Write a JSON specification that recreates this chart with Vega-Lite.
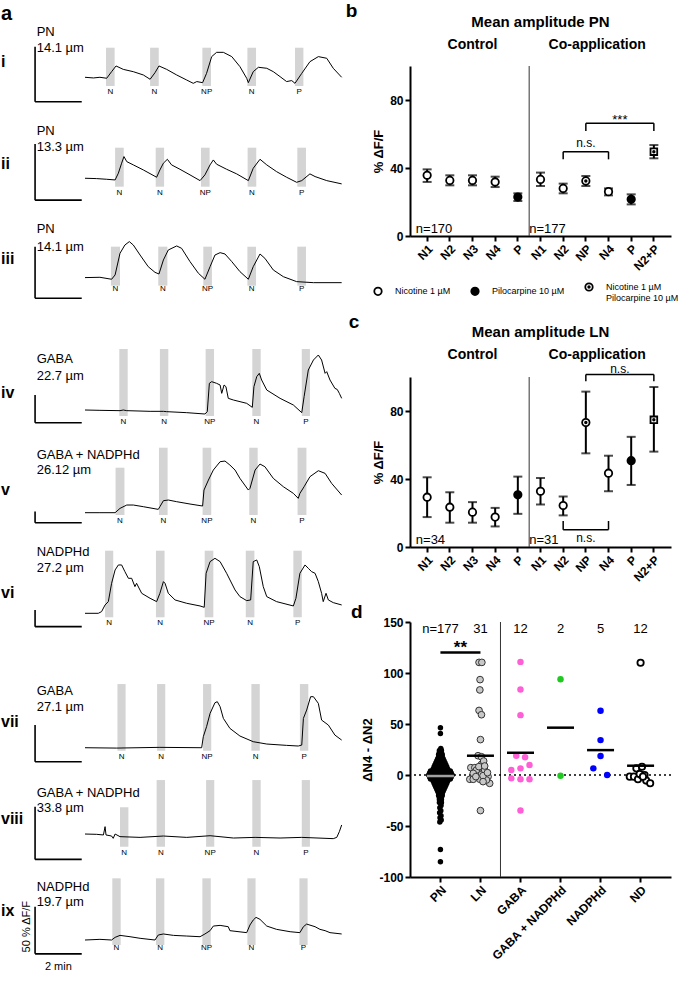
{
"$schema": "https://vega.github.io/schema/vega-lite/v6.json",
"padding": 0,
"background": "white",
"bounds": "full",
"spacing": 0,
"config": {
 "view": {"stroke": null},
 "font": "Liberation Sans",
 "text": {"font": "Liberation Sans", "color": "black"},
 "axis": {"domainColor": "black", "domainWidth": 2, "tickColor": "black", "tickWidth": 2, "tickSize": 5, "labelFont": "Liberation Sans", "labelFontWeight": "bold", "labelFontSize": 12, "labelColor": "black", "labelPadding": 2, "labelOverlap": false, "titleFont": "Liberation Sans", "titleFontWeight": "bold", "titleFontSize": 13, "titleColor": "black", "grid": false},
 "title": {"font": "Liberation Sans", "color": "black"},
 "legend": {"labelFont": "Liberation Sans", "labelColor": "black"}
},
"datasets": {
 "tr": [
  {"r":"i","t":0,"v":0},{"r":"i","t":0.36,"v":-0.6},{"r":"i","t":0.64,"v":0},{"r":"i","t":0.93,"v":-0.9},{"r":"i","t":1.14,"v":5.1},{"r":"i","t":1.33,"v":10.3},{"r":"i","t":1.64,"v":7.2},{"r":"i","t":2.07,"v":5.1},{"r":"i","t":2.5,"v":2.1},{"r":"i","t":2.79,"v":-1.8},{"r":"i","t":3.0,"v":4.2},{"r":"i","t":3.17,"v":10.3},{"r":"i","t":3.5,"v":7.2},{"r":"i","t":3.93,"v":2.1},{"r":"i","t":4.36,"v":-2.5},{"r":"i","t":4.64,"v":-5.5},{"r":"i","t":4.79,"v":-3.9},{"r":"i","t":5.04,"v":-4.9},{"r":"i","t":5.21,"v":3.6},{"r":"i","t":5.43,"v":18.8},{"r":"i","t":5.64,"v":22.7},{"r":"i","t":5.93,"v":22.7},{"r":"i","t":6.29,"v":18.8},{"r":"i","t":6.64,"v":9.7},{"r":"i","t":6.93,"v":-0.9},{"r":"i","t":7.0,"v":-4.9},{"r":"i","t":7.21,"v":5.1},{"r":"i","t":7.43,"v":9.1},{"r":"i","t":7.79,"v":8.2},{"r":"i","t":8.07,"v":5.1},{"r":"i","t":8.36,"v":0.6},{"r":"i","t":8.64,"v":-3.9},{"r":"i","t":8.86,"v":-3.0},{"r":"i","t":9.0,"v":-5.5},{"r":"i","t":9.29,"v":3.6},{"r":"i","t":9.64,"v":14.2},{"r":"i","t":10.0,"v":18.8},{"r":"i","t":10.36,"v":17.3},{"r":"i","t":10.64,"v":8.2},{"r":"i","t":11.0,"v":0},
  {"r":"ii","t":0,"v":0},{"r":"ii","t":0.5,"v":-0.3},{"r":"ii","t":0.93,"v":-0.9},{"r":"ii","t":1.29,"v":-1.5},{"r":"ii","t":1.43,"v":4.5},{"r":"ii","t":1.57,"v":13.4},{"r":"ii","t":1.67,"v":19.3},{"r":"ii","t":1.79,"v":14.8},{"r":"ii","t":2.07,"v":11.9},{"r":"ii","t":2.5,"v":7.4},{"r":"ii","t":3.07,"v":0.9},{"r":"ii","t":3.21,"v":7.4},{"r":"ii","t":3.36,"v":13.4},{"r":"ii","t":3.53,"v":16.9},{"r":"ii","t":3.71,"v":11.9},{"r":"ii","t":4.07,"v":8.0},{"r":"ii","t":4.5,"v":3.0},{"r":"ii","t":4.93,"v":-2.1},{"r":"ii","t":5.14,"v":3.0},{"r":"ii","t":5.36,"v":11.9},{"r":"ii","t":5.5,"v":16.3},{"r":"ii","t":5.64,"v":12.5},{"r":"ii","t":6.07,"v":8.0},{"r":"ii","t":6.5,"v":3.9},{"r":"ii","t":7.0,"v":-2.1},{"r":"ii","t":7.21,"v":8.9},{"r":"ii","t":7.5,"v":16.9},{"r":"ii","t":7.79,"v":11.9},{"r":"ii","t":8.21,"v":5.9},{"r":"ii","t":8.64,"v":0.9},{"r":"ii","t":9.07,"v":-3.6},{"r":"ii","t":9.29,"v":-2.1},{"r":"ii","t":9.64,"v":3.9},{"r":"ii","t":9.86,"v":1.5},{"r":"ii","t":10.36,"v":-2.1},{"r":"ii","t":11.0,"v":-5.0},
  {"r":"iii","t":0,"v":-0.3},{"r":"iii","t":0.64,"v":0},{"r":"iii","t":1.14,"v":-1.9},{"r":"iii","t":1.29,"v":2.3},{"r":"iii","t":1.5,"v":23.3},{"r":"iii","t":1.71,"v":31.3},{"r":"iii","t":1.9,"v":34.6},{"r":"iii","t":2.07,"v":31.3},{"r":"iii","t":2.36,"v":21.6},{"r":"iii","t":2.71,"v":10.3},{"r":"iii","t":3.0,"v":4.8},{"r":"iii","t":3.17,"v":3.2},{"r":"iii","t":3.36,"v":16.8},{"r":"iii","t":3.57,"v":26.5},{"r":"iii","t":3.93,"v":30.4},{"r":"iii","t":4.14,"v":28.1},{"r":"iii","t":4.5,"v":15.2},{"r":"iii","t":4.86,"v":3.9},{"r":"iii","t":5.14,"v":-1.9},{"r":"iii","t":5.36,"v":10.3},{"r":"iii","t":5.57,"v":21.6},{"r":"iii","t":5.79,"v":23.9},{"r":"iii","t":6.0,"v":22.6},{"r":"iii","t":6.29,"v":15.2},{"r":"iii","t":6.64,"v":5.5},{"r":"iii","t":7.0,"v":-1.9},{"r":"iii","t":7.21,"v":10.3},{"r":"iii","t":7.5,"v":22.6},{"r":"iii","t":7.71,"v":18.4},{"r":"iii","t":8.07,"v":7.1},{"r":"iii","t":8.5,"v":0.6},{"r":"iii","t":9.07,"v":-4.2},{"r":"iii","t":9.79,"v":-5.2},{"r":"iii","t":11.0,"v":-5.2},
  {"r":"iv","t":0,"v":0},{"r":"iv","t":0.64,"v":-0.6},{"r":"iv","t":1.5,"v":-1.2},{"r":"iv","t":1.64,"v":0},{"r":"iv","t":1.79,"v":-1.2},{"r":"iv","t":2.79,"v":-2.4},{"r":"iv","t":3.36,"v":-2.4},{"r":"iv","t":3.5,"v":-3},{"r":"iv","t":4.36,"v":-4.8},{"r":"iv","t":5.14,"v":-7.2},{"r":"iv","t":5.24,"v":-3},{"r":"iv","t":5.33,"v":48},{"r":"iv","t":5.43,"v":51},{"r":"iv","t":5.64,"v":48},{"r":"iv","t":5.79,"v":45},{"r":"iv","t":5.86,"v":30},{"r":"iv","t":5.96,"v":45},{"r":"iv","t":6.04,"v":42},{"r":"iv","t":6.14,"v":21},{"r":"iv","t":6.36,"v":18},{"r":"iv","t":6.93,"v":12},{"r":"iv","t":7.17,"v":4.8},{"r":"iv","t":7.24,"v":42},{"r":"iv","t":7.36,"v":60},{"r":"iv","t":7.47,"v":66},{"r":"iv","t":7.57,"v":54},{"r":"iv","t":7.79,"v":36},{"r":"iv","t":8.36,"v":21},{"r":"iv","t":8.93,"v":9},{"r":"iv","t":9.29,"v":-4.8},{"r":"iv","t":9.39,"v":24},{"r":"iv","t":9.57,"v":72},{"r":"iv","t":9.79,"v":90},{"r":"iv","t":10.0,"v":99},{"r":"iv","t":10.14,"v":90},{"r":"iv","t":10.29,"v":66},{"r":"iv","t":10.36,"v":69},{"r":"iv","t":10.5,"v":54},{"r":"iv","t":10.71,"v":39},{"r":"iv","t":10.81,"v":37},{"r":"iv","t":10.9,"v":30},{"r":"iv","t":11.0,"v":21},
  {"r":"v","t":0,"v":0},{"r":"v","t":0.64,"v":0},{"r":"v","t":1.29,"v":0},{"r":"v","t":1.5,"v":19.5},{"r":"v","t":1.79,"v":34.5},{"r":"v","t":2.07,"v":34.5},{"r":"v","t":2.5,"v":27},{"r":"v","t":3.14,"v":15},{"r":"v","t":3.21,"v":27},{"r":"v","t":3.36,"v":54},{"r":"v","t":3.57,"v":57},{"r":"v","t":3.93,"v":49.5},{"r":"v","t":4.5,"v":39},{"r":"v","t":5.04,"v":30},{"r":"v","t":5.1,"v":102},{"r":"v","t":5.29,"v":147},{"r":"v","t":5.5,"v":192},{"r":"v","t":5.79,"v":229.5},{"r":"v","t":6.0,"v":232.5},{"r":"v","t":6.21,"v":214.5},{"r":"v","t":6.43,"v":192},{"r":"v","t":6.64,"v":154.5},{"r":"v","t":7.0,"v":102},{"r":"v","t":7.07,"v":109.5},{"r":"v","t":7.29,"v":192},{"r":"v","t":7.5,"v":219},{"r":"v","t":7.71,"v":207},{"r":"v","t":8.07,"v":154.5},{"r":"v","t":8.5,"v":117},{"r":"v","t":8.93,"v":87},{"r":"v","t":9.14,"v":64.5},{"r":"v","t":9.21,"v":87},{"r":"v","t":9.39,"v":117},{"r":"v","t":9.64,"v":162},{"r":"v","t":10.0,"v":189},{"r":"v","t":10.29,"v":177},{"r":"v","t":10.57,"v":132},{"r":"v","t":11.0,"v":79.5},
  {"r":"vi","t":0,"v":0},{"r":"vi","t":0.57,"v":0},{"r":"vi","t":0.71,"v":5},{"r":"vi","t":0.86,"v":25},{"r":"vi","t":1.0,"v":35},{"r":"vi","t":1.14,"v":90},{"r":"vi","t":1.29,"v":130},{"r":"vi","t":1.43,"v":145},{"r":"vi","t":1.57,"v":145},{"r":"vi","t":1.71,"v":125},{"r":"vi","t":1.86,"v":105},{"r":"vi","t":2.0,"v":105},{"r":"vi","t":2.14,"v":80},{"r":"vi","t":2.21,"v":90},{"r":"vi","t":2.43,"v":60},{"r":"vi","t":2.79,"v":45},{"r":"vi","t":3.07,"v":35},{"r":"vi","t":3.21,"v":60},{"r":"vi","t":3.36,"v":95},{"r":"vi","t":3.43,"v":90},{"r":"vi","t":3.57,"v":60},{"r":"vi","t":3.86,"v":40},{"r":"vi","t":4.36,"v":30},{"r":"vi","t":4.93,"v":22},{"r":"vi","t":5.11,"v":18},{"r":"vi","t":5.19,"v":120},{"r":"vi","t":5.36,"v":155},{"r":"vi","t":5.57,"v":165},{"r":"vi","t":5.79,"v":155},{"r":"vi","t":6.07,"v":120},{"r":"vi","t":6.43,"v":70},{"r":"vi","t":6.64,"v":50},{"r":"vi","t":6.93,"v":38},{"r":"vi","t":7.1,"v":40},{"r":"vi","t":7.21,"v":155},{"r":"vi","t":7.36,"v":160},{"r":"vi","t":7.47,"v":140},{"r":"vi","t":7.64,"v":80},{"r":"vi","t":7.79,"v":50},{"r":"vi","t":8.21,"v":35},{"r":"vi","t":8.93,"v":22},{"r":"vi","t":9.04,"v":45},{"r":"vi","t":9.21,"v":120},{"r":"vi","t":9.43,"v":145},{"r":"vi","t":9.57,"v":135},{"r":"vi","t":9.71,"v":125},{"r":"vi","t":9.86,"v":120},{"r":"vi","t":10.0,"v":95},{"r":"vi","t":10.14,"v":60},{"r":"vi","t":10.21,"v":35},{"r":"vi","t":10.33,"v":60},{"r":"vi","t":10.43,"v":40},{"r":"vi","t":10.64,"v":32},{"r":"vi","t":11.0,"v":25},
  {"r":"vii","t":0,"v":0},{"r":"vii","t":1.36,"v":-0.5},{"r":"vii","t":3.21,"v":0.5},{"r":"vii","t":5.0,"v":0},{"r":"vii","t":5.07,"v":15},{"r":"vii","t":5.21,"v":28.6},{"r":"vii","t":5.36,"v":46.7},{"r":"vii","t":5.57,"v":61.2},{"r":"vii","t":5.67,"v":62.6},{"r":"vii","t":5.79,"v":55.8},{"r":"vii","t":5.93,"v":39.9},{"r":"vii","t":6.21,"v":26.3},{"r":"vii","t":6.64,"v":15.9},{"r":"vii","t":7.21,"v":8.2},{"r":"vii","t":7.79,"v":5.0},{"r":"vii","t":8.64,"v":3.2},{"r":"vii","t":9.14,"v":2.3},{"r":"vii","t":9.29,"v":3.6},{"r":"vii","t":9.36,"v":39.9},{"r":"vii","t":9.5,"v":51.2},{"r":"vii","t":9.67,"v":69.4},{"r":"vii","t":9.79,"v":69.4},{"r":"vii","t":10.0,"v":60.3},{"r":"vii","t":10.14,"v":37.6},{"r":"vii","t":10.43,"v":30.8},{"r":"vii","t":10.71,"v":17.2},{"r":"vii","t":11.0,"v":10.4},
  {"r":"viii","t":0,"v":1.9},{"r":"viii","t":0.5,"v":1.6},{"r":"viii","t":0.79,"v":1.0},{"r":"viii","t":0.86,"v":8.9},{"r":"viii","t":0.9,"v":1.0},{"r":"viii","t":1.14,"v":0},{"r":"viii","t":1.21,"v":-2.2},{"r":"viii","t":1.29,"v":1.9},{"r":"viii","t":1.5,"v":-0.6},{"r":"viii","t":2.36,"v":-1.3},{"r":"viii","t":3.36,"v":0},{"r":"viii","t":4.36,"v":-1.3},{"r":"viii","t":5.36,"v":0.3},{"r":"viii","t":6.36,"v":-1.9},{"r":"viii","t":7.29,"v":-1.3},{"r":"viii","t":8.36,"v":-1.9},{"r":"viii","t":9.29,"v":-1.3},{"r":"viii","t":10.64,"v":-2.5},{"r":"viii","t":10.79,"v":-1.3},{"r":"viii","t":10.9,"v":4.1},{"r":"viii","t":11.0,"v":10.5},
  {"r":"ix","t":0,"v":0},{"r":"ix","t":0.64,"v":0.7},{"r":"ix","t":1.14,"v":0},{"r":"ix","t":1.29,"v":2.8},{"r":"ix","t":1.5,"v":4.9},{"r":"ix","t":1.93,"v":3.5},{"r":"ix","t":2.36,"v":1.8},{"r":"ix","t":3.0,"v":0},{"r":"ix","t":3.14,"v":5.3},{"r":"ix","t":3.36,"v":6.4},{"r":"ix","t":3.79,"v":4.9},{"r":"ix","t":4.36,"v":4.2},{"r":"ix","t":4.93,"v":3.5},{"r":"ix","t":5.14,"v":6.4},{"r":"ix","t":5.36,"v":9.9},{"r":"ix","t":5.5,"v":14.8},{"r":"ix","t":5.79,"v":15.5},{"r":"ix","t":6.14,"v":14.1},{"r":"ix","t":6.21,"v":9.9},{"r":"ix","t":6.93,"v":7.8},{"r":"ix","t":7.07,"v":15.9},{"r":"ix","t":7.21,"v":21.2},{"r":"ix","t":7.33,"v":24.0},{"r":"ix","t":7.5,"v":21.9},{"r":"ix","t":7.79,"v":14.8},{"r":"ix","t":8.21,"v":11.3},{"r":"ix","t":8.79,"v":8.8},{"r":"ix","t":9.21,"v":7.8},{"r":"ix","t":9.36,"v":14.1},{"r":"ix","t":9.5,"v":16.9},{"r":"ix","t":9.86,"v":14.1},{"r":"ix","t":10.07,"v":11.3},{"r":"ix","t":10.29,"v":9.9},{"r":"ix","t":10.5,"v":7.8},{"r":"ix","t":11.0,"v":6.4}
 ],
 "bars": [
  {"r":"i","t":0.9,"t2":1.27,"v":-7.9,"v2":26.9},{"r":"i","t":2.79,"t2":3.16,"v":-7.9,"v2":26.9},{"r":"i","t":5.03,"t2":5.4,"v":-7.9,"v2":26.9},{"r":"i","t":6.96,"t2":7.33,"v":-7.9,"v2":26.9},{"r":"i","t":9.0,"t2":9.36,"v":-7.9,"v2":26.9},
  {"r":"ii","t":1.29,"t2":1.66,"v":-7.5,"v2":27.2},{"r":"ii","t":3.03,"t2":3.39,"v":-7.5,"v2":27.2},{"r":"ii","t":4.97,"t2":5.34,"v":-7.5,"v2":27.2},{"r":"ii","t":6.97,"t2":7.34,"v":-7.5,"v2":27.2},{"r":"ii","t":9.1,"t2":9.47,"v":-7.5,"v2":27.2},
  {"r":"iii","t":1.11,"t2":1.5,"v":-8.1,"v2":29.7},{"r":"iii","t":3.14,"t2":3.53,"v":-8.1,"v2":29.7},{"r":"iii","t":5.07,"t2":5.44,"v":-8.1,"v2":29.7},{"r":"iii","t":6.96,"t2":7.33,"v":-8.1,"v2":29.7},{"r":"iii","t":9.1,"t2":9.47,"v":-8.1,"v2":29.7},
  {"r":"iv","t":1.47,"t2":1.83,"v":-10.8,"v2":109.8},{"r":"iv","t":3.21,"t2":3.57,"v":-10.8,"v2":109.8},{"r":"iv","t":5.17,"t2":5.53,"v":-10.8,"v2":109.8},{"r":"iv","t":7.17,"t2":7.53,"v":-10.8,"v2":109.8},{"r":"iv","t":9.29,"t2":9.64,"v":-10.8,"v2":109.8},
  {"r":"v","t":1.31,"t2":1.69,"v":-10.4,"v2":202.5},{"r":"v","t":3.17,"t2":3.54,"v":-10.4,"v2":292.5},{"r":"v","t":5.04,"t2":5.41,"v":-10.4,"v2":292.5},{"r":"v","t":7.04,"t2":7.4,"v":-10.4,"v2":292.5},{"r":"v","t":9.11,"t2":9.49,"v":-10.4,"v2":292.5},
  {"r":"vi","t":0.86,"t2":1.21,"v":-12,"v2":187.8},{"r":"vi","t":3.04,"t2":3.41,"v":-12,"v2":187.8},{"r":"vi","t":5.13,"t2":5.5,"v":-12,"v2":187.8},{"r":"vi","t":6.89,"t2":7.26,"v":-12,"v2":187.8},{"r":"vi","t":8.93,"t2":9.29,"v":-12,"v2":187.8},
  {"r":"vii","t":1.39,"t2":1.74,"v":-4.1,"v2":86.6},{"r":"vii","t":3.09,"t2":3.44,"v":-4.1,"v2":86.6},{"r":"vii","t":5.06,"t2":5.41,"v":-4.1,"v2":86.6},{"r":"vii","t":7.13,"t2":7.49,"v":-4.1,"v2":86.6},{"r":"vii","t":9.21,"t2":9.57,"v":-4.1,"v2":86.6},
  {"r":"viii","t":1.5,"t2":1.86,"v":-10.2,"v2":27.3},{"r":"viii","t":3.07,"t2":3.43,"v":-10.2,"v2":53.2},{"r":"viii","t":5.19,"t2":5.54,"v":-10.2,"v2":53.2},{"r":"viii","t":7.17,"t2":7.53,"v":-10.2,"v2":53.2},{"r":"viii","t":9.29,"t2":9.64,"v":-10.2,"v2":53.2},
  {"r":"ix","t":1.17,"t2":1.53,"v":-5.3,"v2":65.4},{"r":"ix","t":3.04,"t2":3.4,"v":-5.3,"v2":65.4},{"r":"ix","t":5.03,"t2":5.39,"v":-5.3,"v2":65.4},{"r":"ix","t":6.96,"t2":7.31,"v":-5.3,"v2":65.4},{"r":"ix","t":9.19,"t2":9.54,"v":-5.3,"v2":65.4}
 ],
 "sl": [
  {"r":"i","t":1.085,"v":-13.7,"txt":"N"},{"r":"i","t":2.975,"v":-13.7,"txt":"N"},{"r":"i","t":5.215,"v":-13.7,"txt":"NP"},{"r":"i","t":7.145,"v":-13.7,"txt":"N"},{"r":"i","t":9.18,"v":-13.7,"txt":"P"},
  {"r":"ii","t":1.475,"v":-12.8,"txt":"N"},{"r":"ii","t":3.21,"v":-12.8,"txt":"N"},{"r":"ii","t":5.155,"v":-12.8,"txt":"NP"},{"r":"ii","t":7.155,"v":-12.8,"txt":"N"},{"r":"ii","t":9.285,"v":-12.8,"txt":"P"},
  {"r":"iii","t":1.305,"v":-11.6,"txt":"N"},{"r":"iii","t":3.335,"v":-11.6,"txt":"N"},{"r":"iii","t":5.255,"v":-11.6,"txt":"NP"},{"r":"iii","t":7.145,"v":-11.6,"txt":"N"},{"r":"iii","t":9.285,"v":-11.6,"txt":"P"},
  {"r":"iv","t":1.65,"v":-22.1,"txt":"N"},{"r":"iv","t":3.39,"v":-22.1,"txt":"N"},{"r":"iv","t":5.35,"v":-22.1,"txt":"NP"},{"r":"iv","t":7.35,"v":-22.1,"txt":"N"},{"r":"iv","t":9.465,"v":-22.1,"txt":"P"},
  {"r":"v","t":1.5,"v":-37.4,"txt":"N"},{"r":"v","t":3.355,"v":-37.4,"txt":"N"},{"r":"v","t":5.225,"v":-37.4,"txt":"NP"},{"r":"v","t":7.22,"v":-37.4,"txt":"N"},{"r":"v","t":9.3,"v":-37.4,"txt":"P"},
  {"r":"vi","t":1.035,"v":-30,"txt":"N"},{"r":"vi","t":3.225,"v":-30,"txt":"N"},{"r":"vi","t":5.315,"v":-30,"txt":"NP"},{"r":"vi","t":7.075,"v":-30,"txt":"N"},{"r":"vi","t":9.11,"v":-30,"txt":"P"},
  {"r":"vii","t":1.565,"v":-13.1,"txt":"N"},{"r":"vii","t":3.265,"v":-13.1,"txt":"N"},{"r":"vii","t":5.235,"v":-13.1,"txt":"NP"},{"r":"vii","t":7.31,"v":-13.1,"txt":"N"},{"r":"vii","t":9.39,"v":-13.1,"txt":"P"},
  {"r":"viii","t":1.68,"v":-16.4,"txt":"N"},{"r":"viii","t":3.25,"v":-16.4,"txt":"N"},{"r":"viii","t":5.365,"v":-16.4,"txt":"NP"},{"r":"viii","t":7.35,"v":-16.4,"txt":"N"},{"r":"viii","t":9.465,"v":-16.4,"txt":"P"},
  {"r":"ix","t":1.35,"v":-8.8,"txt":"N"},{"r":"ix","t":3.22,"v":-8.8,"txt":"N"},{"r":"ix","t":5.21,"v":-8.8,"txt":"NP"},{"r":"ix","t":7.135,"v":-8.8,"txt":"N"},{"r":"ix","t":9.365,"v":-8.8,"txt":"P"}
 ],
 "sb": [
  {"r":"i","t":-2.14,"t2":-2.14,"v":27.8,"v2":-22.2},{"r":"i","t":-2.14,"t2":-0.14,"v":-22.2,"v2":-22.2},
  {"r":"ii","t":-2.14,"t2":-2.14,"v":30.5,"v2":-19.5},{"r":"ii","t":-2.14,"t2":-0.14,"v":-19.5,"v2":-19.5},
  {"r":"iii","t":-2.14,"t2":-2.14,"v":29.7,"v2":-20.3},{"r":"iii","t":-2.14,"t2":-0.14,"v":-20.3,"v2":-20.3},
  {"r":"iv","t":-2.14,"t2":-2.14,"v":27,"v2":-23},{"r":"iv","t":-2.14,"t2":-0.14,"v":-23,"v2":-23},
  {"r":"v","t":-2.14,"t2":-2.14,"v":5,"v2":-45},{"r":"v","t":-2.14,"t2":-0.14,"v":-45,"v2":-45},
  {"r":"vi","t":-2.14,"t2":-2.14,"v":9.9,"v2":-40.1},{"r":"vi","t":-2.14,"t2":-0.14,"v":-40.1,"v2":-40.1},
  {"r":"vii","t":-2.14,"t2":-2.14,"v":30.9,"v2":-19.1},{"r":"vii","t":-2.14,"t2":-0.14,"v":-19.1,"v2":-19.1},
  {"r":"viii","t":-2.14,"t2":-2.14,"v":27.8,"v2":-22.2},{"r":"viii","t":-2.14,"t2":-0.14,"v":-22.2,"v2":-22.2},
  {"r":"ix","t":-2.14,"t2":-2.14,"v":35.3,"v2":-14.7},{"r":"ix","t":-2.14,"t2":-0.14,"v":-14.7,"v2":-14.7}
 ],
 "nm": [
  {"r":"i","t":-2.07,"v":41.5,"txt":"PN"},{"r":"i","t":-2.07,"v":26.7,"txt":"14.1 µm"},
  {"r":"ii","t":-2.07,"v":42.1,"txt":"PN"},{"r":"ii","t":-2.07,"v":27.9,"txt":"13.3 µm"},
  {"r":"iii","t":-2.07,"v":46.6,"txt":"PN"},{"r":"iii","t":-2.07,"v":29.7,"txt":"14.1 µm"},
  {"r":"iv","t":-2.07,"v":91.3,"txt":"GABA"},{"r":"iv","t":-2.07,"v":61.7,"txt":"22.7 µm"},
  {"r":"v","t":-2.07,"v":259.7,"txt":"GABA + NADPHd"},{"r":"v","t":-2.07,"v":192.2,"txt":"26.12 µm"},
  {"r":"vi","t":-2.07,"v":184.8,"txt":"NADPHd"},{"r":"vi","t":-2.07,"v":135,"txt":"27.2 µm"},
  {"r":"vii","t":-2.07,"v":77.1,"txt":"GABA"},{"r":"vii","t":-2.07,"v":55.8,"txt":"27.1 µm"},
  {"r":"viii","t":-2.07,"v":40.6,"txt":"GABA + NADPHd"},{"r":"viii","t":-2.07,"v":26.3,"txt":"33.8 µm"},
  {"r":"ix","t":-2.07,"v":56.5,"txt":"NADPHd"},{"r":"ix","t":-2.07,"v":40.6,"txt":"19.7 µm"}
 ],
 "rn": [
  {"r":"i","t":-3.6,"v":14.2,"txt":"i"},{"r":"ii","t":-3.6,"v":12.7,"txt":"ii"},{"r":"iii","t":-3.6,"v":17.5,"txt":"iii"},
  {"r":"iv","t":-3.6,"v":30.1,"txt":"iv"},{"r":"v","t":-3.6,"v":102.2,"txt":"v"},{"r":"vi","t":-3.6,"v":60,"txt":"vi"},
  {"r":"vii","t":-3.6,"v":34.5,"txt":"vii"},{"r":"viii","t":-3.6,"v":15.9,"txt":"viii"},{"r":"ix","t":-3.6,"v":31.1,"txt":"ix"}
 ],
 "bd": [
  {"k":"N1|c","m":35.7,"lo":31.8,"hi":39.2,"d":"N"},{"k":"N2|c","m":32.7,"lo":29.8,"hi":35.7,"d":"N"},{"k":"N3|c","m":32.7,"lo":29.8,"hi":35.7,"d":"N"},{"k":"N4|c","m":31.8,"lo":28.8,"hi":34.9,"d":"N"},{"k":"P|c","m":22.9,"lo":20.6,"hi":25.1,"d":"P"},
  {"k":"N1|a","m":33.3,"lo":29.4,"hi":37.3,"d":"N"},{"k":"N2|a","m":28.0,"lo":25.1,"hi":30.8,"d":"N"},{"k":"NP|a","m":32.4,"lo":29.4,"hi":35.3,"d":"NP"},{"k":"N4|a","m":26.1,"lo":23.9,"hi":28.0,"d":"N"},{"k":"P|a","m":21.6,"lo":18.6,"hi":24.5,"d":"P"},{"k":"N2+P|a","m":49.6,"lo":45.7,"hi":53.5,"d":"N2P"}
 ],
 "cd": [
  {"k":"N1|c","m":29.3,"lo":17.6,"hi":41.0,"d":"N"},{"k":"N2|c","m":23.4,"lo":14.3,"hi":32.2,"d":"N"},{"k":"N3|c","m":20.5,"lo":14.3,"hi":26.4,"d":"N"},{"k":"N4|c","m":17.6,"lo":12.1,"hi":23.0,"d":"N"},{"k":"P|c","m":30.7,"lo":19.5,"hi":41.4,"d":"P"},
  {"k":"N1|a","m":32.8,"lo":25.0,"hi":40.6,"d":"N"},{"k":"N2|a","m":24.4,"lo":18.6,"hi":29.7,"d":"N"},{"k":"NP|a","m":73.2,"lo":55.1,"hi":91.4,"d":"NP"},{"k":"N4|a","m":43.4,"lo":32.8,"hi":53.7,"d":"N"},{"k":"P|a","m":50.8,"lo":36.5,"hi":64.8,"d":"P"},{"k":"N2+P|a","m":74.8,"lo":56.1,"hi":94.1,"d":"N2P"}
 ],
 "dp": [
  {"g":"PN","v":46.4,"j":0},{"g":"PN","v":40.6,"j":0},{"g":"PN","v":26,"j":0.02},
  {"g":"PN","v":24,"j":-0.05},{"g":"PN","v":24,"j":0.05},{"g":"PN","v":22,"j":-0.05},{"g":"PN","v":22,"j":0.05},
  {"g":"PN","v":20,"j":-0.09},{"g":"PN","v":20,"j":0},{"g":"PN","v":20,"j":0.09},
  {"g":"PN","v":18,"j":-0.09},{"g":"PN","v":18,"j":0},{"g":"PN","v":18,"j":0.09},
  {"g":"PN","v":16,"j":-0.135},{"g":"PN","v":16,"j":-0.045},{"g":"PN","v":16,"j":0.045},{"g":"PN","v":16,"j":0.135},
  {"g":"PN","v":14,"j":-0.18},{"g":"PN","v":14,"j":-0.09},{"g":"PN","v":14,"j":0},{"g":"PN","v":14,"j":0.09},{"g":"PN","v":14,"j":0.18},
  {"g":"PN","v":12,"j":-0.225},{"g":"PN","v":12,"j":-0.135},{"g":"PN","v":12,"j":-0.045},{"g":"PN","v":12,"j":0.045},{"g":"PN","v":12,"j":0.135},{"g":"PN","v":12,"j":0.225},
  {"g":"PN","v":10,"j":-0.27},{"g":"PN","v":10,"j":-0.18},{"g":"PN","v":10,"j":-0.09},{"g":"PN","v":10,"j":0},{"g":"PN","v":10,"j":0.09},{"g":"PN","v":10,"j":0.18},{"g":"PN","v":10,"j":0.27},
  {"g":"PN","v":8,"j":-0.315},{"g":"PN","v":8,"j":-0.225},{"g":"PN","v":8,"j":-0.135},{"g":"PN","v":8,"j":-0.045},{"g":"PN","v":8,"j":0.045},{"g":"PN","v":8,"j":0.135},{"g":"PN","v":8,"j":0.225},{"g":"PN","v":8,"j":0.315},
  {"g":"PN","v":6,"j":-0.36},{"g":"PN","v":6,"j":-0.27},{"g":"PN","v":6,"j":-0.18},{"g":"PN","v":6,"j":-0.09},{"g":"PN","v":6,"j":0},{"g":"PN","v":6,"j":0.09},{"g":"PN","v":6,"j":0.18},{"g":"PN","v":6,"j":0.27},{"g":"PN","v":6,"j":0.36},
  {"g":"PN","v":4,"j":-0.495},{"g":"PN","v":4,"j":-0.405},{"g":"PN","v":4,"j":-0.315},{"g":"PN","v":4,"j":-0.225},{"g":"PN","v":4,"j":-0.135},{"g":"PN","v":4,"j":-0.045},{"g":"PN","v":4,"j":0.045},{"g":"PN","v":4,"j":0.135},{"g":"PN","v":4,"j":0.225},{"g":"PN","v":4,"j":0.315},{"g":"PN","v":4,"j":0.405},{"g":"PN","v":4,"j":0.495},
  {"g":"PN","v":2,"j":-0.54},{"g":"PN","v":2,"j":-0.45},{"g":"PN","v":2,"j":-0.36},{"g":"PN","v":2,"j":-0.27},{"g":"PN","v":2,"j":-0.18},{"g":"PN","v":2,"j":-0.09},{"g":"PN","v":2,"j":0},{"g":"PN","v":2,"j":0.09},{"g":"PN","v":2,"j":0.18},{"g":"PN","v":2,"j":0.27},{"g":"PN","v":2,"j":0.36},{"g":"PN","v":2,"j":0.45},{"g":"PN","v":2,"j":0.54},
  {"g":"PN","v":0,"j":-0.585},{"g":"PN","v":0,"j":-0.495},{"g":"PN","v":0,"j":-0.405},{"g":"PN","v":0,"j":-0.315},{"g":"PN","v":0,"j":-0.225},{"g":"PN","v":0,"j":-0.135},{"g":"PN","v":0,"j":-0.045},{"g":"PN","v":0,"j":0.045},{"g":"PN","v":0,"j":0.135},{"g":"PN","v":0,"j":0.225},{"g":"PN","v":0,"j":0.315},{"g":"PN","v":0,"j":0.405},{"g":"PN","v":0,"j":0.495},{"g":"PN","v":0,"j":0.585},
  {"g":"PN","v":-2,"j":-0.54},{"g":"PN","v":-2,"j":-0.45},{"g":"PN","v":-2,"j":-0.36},{"g":"PN","v":-2,"j":-0.27},{"g":"PN","v":-2,"j":-0.18},{"g":"PN","v":-2,"j":-0.09},{"g":"PN","v":-2,"j":0},{"g":"PN","v":-2,"j":0.09},{"g":"PN","v":-2,"j":0.18},{"g":"PN","v":-2,"j":0.27},{"g":"PN","v":-2,"j":0.36},{"g":"PN","v":-2,"j":0.45},{"g":"PN","v":-2,"j":0.54},
  {"g":"PN","v":-4,"j":-0.495},{"g":"PN","v":-4,"j":-0.405},{"g":"PN","v":-4,"j":-0.315},{"g":"PN","v":-4,"j":-0.225},{"g":"PN","v":-4,"j":-0.135},{"g":"PN","v":-4,"j":-0.045},{"g":"PN","v":-4,"j":0.045},{"g":"PN","v":-4,"j":0.135},{"g":"PN","v":-4,"j":0.225},{"g":"PN","v":-4,"j":0.315},{"g":"PN","v":-4,"j":0.405},{"g":"PN","v":-4,"j":0.495},
  {"g":"PN","v":-6,"j":-0.36},{"g":"PN","v":-6,"j":-0.27},{"g":"PN","v":-6,"j":-0.18},{"g":"PN","v":-6,"j":-0.09},{"g":"PN","v":-6,"j":0},{"g":"PN","v":-6,"j":0.09},{"g":"PN","v":-6,"j":0.18},{"g":"PN","v":-6,"j":0.27},{"g":"PN","v":-6,"j":0.36},
  {"g":"PN","v":-8,"j":-0.315},{"g":"PN","v":-8,"j":-0.225},{"g":"PN","v":-8,"j":-0.135},{"g":"PN","v":-8,"j":-0.045},{"g":"PN","v":-8,"j":0.045},{"g":"PN","v":-8,"j":0.135},{"g":"PN","v":-8,"j":0.225},{"g":"PN","v":-8,"j":0.315},
  {"g":"PN","v":-10,"j":-0.27},{"g":"PN","v":-10,"j":-0.18},{"g":"PN","v":-10,"j":-0.09},{"g":"PN","v":-10,"j":0},{"g":"PN","v":-10,"j":0.09},{"g":"PN","v":-10,"j":0.18},{"g":"PN","v":-10,"j":0.27},
  {"g":"PN","v":-12,"j":-0.225},{"g":"PN","v":-12,"j":-0.135},{"g":"PN","v":-12,"j":-0.045},{"g":"PN","v":-12,"j":0.045},{"g":"PN","v":-12,"j":0.135},{"g":"PN","v":-12,"j":0.225},
  {"g":"PN","v":-14,"j":-0.18},{"g":"PN","v":-14,"j":-0.09},{"g":"PN","v":-14,"j":0},{"g":"PN","v":-14,"j":0.09},{"g":"PN","v":-14,"j":0.18},
  {"g":"PN","v":-16,"j":-0.135},{"g":"PN","v":-16,"j":-0.045},{"g":"PN","v":-16,"j":0.045},{"g":"PN","v":-16,"j":0.135},
  {"g":"PN","v":-18,"j":-0.09},{"g":"PN","v":-18,"j":0},{"g":"PN","v":-18,"j":0.09},
  {"g":"PN","v":-20,"j":-0.09},{"g":"PN","v":-20,"j":0},{"g":"PN","v":-20,"j":0.09},
  {"g":"PN","v":-22,"j":-0.05},{"g":"PN","v":-22,"j":0.05},{"g":"PN","v":-24,"j":-0.05},{"g":"PN","v":-24,"j":0.05},{"g":"PN","v":-27,"j":-0.05},{"g":"PN","v":-27,"j":0.05},
  {"g":"PN","v":-30,"j":0.03},{"g":"PN","v":-32,"j":-0.03},{"g":"PN","v":-35,"j":0.02},{"g":"PN","v":-37,"j":-0.04},{"g":"PN","v":-40,"j":0.03},{"g":"PN","v":-42,"j":-0.02},{"g":"PN","v":-44,"j":0.04},{"g":"PN","v":-46,"j":-0.03},
  {"g":"PN","v":-73,"j":0},{"g":"PN","v":-85,"j":0},
  {"g":"LN","v":110.4,"j":-0.07},{"g":"LN","v":110.4,"j":0.07},{"g":"LN","v":93.5,"j":-0.02},{"g":"LN","v":83.4,"j":-0.03},{"g":"LN","v":63.3,"j":-0.07},{"g":"LN","v":59.1,"j":0.05},{"g":"LN","v":34.7,"j":0},
  {"g":"LN","v":18.9,"j":-0.12},{"g":"LN","v":17.9,"j":0.05},{"g":"LN","v":7.2,"j":-0.48},{"g":"LN","v":7.2,"j":-0.28},{"g":"LN","v":10.4,"j":0.05},{"g":"LN","v":13.7,"j":0.16},
  {"g":"LN","v":-4.2,"j":-0.53},{"g":"LN","v":-4.2,"j":-0.36},{"g":"LN","v":2.3,"j":-0.15},{"g":"LN","v":0.7,"j":0.05},{"g":"LN","v":4.9,"j":0.21},{"g":"LN","v":-1.6,"j":0.38},{"g":"LN","v":-8.2,"j":0.46},{"g":"LN","v":-4.9,"j":0.3},{"g":"LN","v":-4.2,"j":-0.03},{"g":"LN","v":-0.7,"j":0.13},
  {"g":"LN","v":-34.9,"j":0},{"g":"LN","v":4.9,"j":-0.2},{"g":"LN","v":1.6,"j":-0.36},{"g":"LN","v":8.2,"j":-0.08},{"g":"LN","v":8.8,"j":0.21},{"g":"LN","v":2.3,"j":0.35},{"g":"LN","v":-1.6,"j":-0.23},{"g":"LN","v":-6.5,"j":0.13},
  {"g":"GABA","v":110.9,"j":0},{"g":"GABA","v":83.8,"j":0},{"g":"GABA","v":58.7,"j":0},{"g":"GABA","v":18.9,"j":-0.21},{"g":"GABA","v":17.3,"j":0.23},{"g":"GABA","v":9.8,"j":0.45},{"g":"GABA","v":6.5,"j":0},{"g":"GABA","v":4.9,"j":-0.46},{"g":"GABA","v":-3.3,"j":-0.46},{"g":"GABA","v":-4.2,"j":0},{"g":"GABA","v":-4.2,"j":0.45},{"g":"GABA","v":-34.9,"j":0},
  {"g":"GABA + NADPHd","v":93.9,"j":0},{"g":"GABA + NADPHd","v":-0.7,"j":0},
  {"g":"NADPHd","v":62.9,"j":0},{"g":"NADPHd","v":34.2,"j":0},{"g":"NADPHd","v":18.6,"j":0},{"g":"NADPHd","v":6.5,"j":-0.36},{"g":"NADPHd","v":0,"j":0.33},
  {"g":"ND","v":110,"j":0},{"g":"ND","v":6.5,"j":-0.21},{"g":"ND","v":8.1,"j":0.07},{"g":"ND","v":-1.6,"j":-0.54},{"g":"ND","v":-1.6,"j":-0.33},{"g":"ND","v":-4.2,"j":-0.13},{"g":"ND","v":0,"j":0.03},{"g":"ND","v":0,"j":0.2},{"g":"ND","v":1.0,"j":-0.05},{"g":"ND","v":-5.5,"j":0.28},{"g":"ND","v":-8.1,"j":0.48},{"g":"ND","v":-1.6,"j":0.12}
 ],
 "dm": [
  {"g":"PN","m":-1.0},{"g":"LN","m":18.9},{"g":"GABA","m":21.8},{"g":"GABA + NADPHd","m":46.4},{"g":"NADPHd","m":24.4},{"g":"ND","m":9.1}
 ]
},
"hconcat": [
 {"vconcat": [
  {"width":345,"height":115,
   "encoding":{"x":{"field":"t","type":"quantitative","scale":{"domain":[-3.643,11.143],"nice":false,"zero":false},"axis":null},"y":{"field":"v","type":"quantitative","scale":{"domain":[-34.3,70.3],"nice":false,"zero":false},"axis":null}},
   "layer":[
    {"data":{"name":"bars"},"transform":[{"filter":"datum.r=='i'"}],"mark":{"type":"rect","color":"#d4d4d4"},"encoding":{"x2":{"field":"t2"},"y2":{"field":"v2"}}},
    {"data":{"name":"tr"},"transform":[{"filter":"datum.r=='i'"}],"mark":{"type":"line","color":"black","strokeWidth":1},"encoding":{}},
    {"data":{"name":"sl"},"transform":[{"filter":"datum.r=='i'"}],"mark":{"type":"text","fontSize":8},"encoding":{"text":{"field":"txt"}}},
    {"data":{"name":"sb"},"transform":[{"filter":"datum.r=='i'"}],"mark":{"type":"rule","color":"black","strokeWidth":1.6},"encoding":{"x2":{"field":"t2"},"y2":{"field":"v2"}}},
    {"data":{"name":"nm"},"transform":[{"filter":"datum.r=='i'"}],"mark":{"type":"text","align":"left","fontSize":13},"encoding":{"text":{"field":"txt"}}},
    {"data":{"name":"rn"},"transform":[{"filter":"datum.r=='i'"}],"mark":{"type":"text","align":"left","fontSize":16,"fontWeight":"bold"},"encoding":{"text":{"field":"txt"}}},
    {"data":{"values":[{"t":-3.6,"v":57.6,"txt":"a"}]},"mark":{"type":"text","align":"left","fontSize":20,"fontWeight":"bold"},"encoding":{"text":{"field":"txt"}}}
   ]},
  {"width":345,"height":100,
   "encoding":{"x":{"field":"t","type":"quantitative","scale":{"domain":[-3.643,11.143],"nice":false,"zero":false},"axis":null},"y":{"field":"v","type":"quantitative","scale":{"domain":[-32.7,56.3],"nice":false,"zero":false},"axis":null}},
   "layer":[
    {"data":{"name":"bars"},"transform":[{"filter":"datum.r=='ii'"}],"mark":{"type":"rect","color":"#d4d4d4"},"encoding":{"x2":{"field":"t2"},"y2":{"field":"v2"}}},
    {"data":{"name":"tr"},"transform":[{"filter":"datum.r=='ii'"}],"mark":{"type":"line","color":"black","strokeWidth":1},"encoding":{}},
    {"data":{"name":"sl"},"transform":[{"filter":"datum.r=='ii'"}],"mark":{"type":"text","fontSize":8},"encoding":{"text":{"field":"txt"}}},
    {"data":{"name":"sb"},"transform":[{"filter":"datum.r=='ii'"}],"mark":{"type":"rule","color":"black","strokeWidth":1.6},"encoding":{"x2":{"field":"t2"},"y2":{"field":"v2"}}},
    {"data":{"name":"nm"},"transform":[{"filter":"datum.r=='ii'"}],"mark":{"type":"text","align":"left","fontSize":13},"encoding":{"text":{"field":"txt"}}},
    {"data":{"name":"rn"},"transform":[{"filter":"datum.r=='ii'"}],"mark":{"type":"text","align":"left","fontSize":16,"fontWeight":"bold"},"encoding":{"text":{"field":"txt"}}}
   ]},
  {"width":345,"height":115,
   "encoding":{"x":{"field":"t","type":"quantitative","scale":{"domain":[-3.643,11.143],"nice":false,"zero":false},"axis":null},"y":{"field":"v","type":"quantitative","scale":{"domain":[-51.1,60.4],"nice":false,"zero":false},"axis":null}},
   "layer":[
    {"data":{"name":"bars"},"transform":[{"filter":"datum.r=='iii'"}],"mark":{"type":"rect","color":"#d4d4d4"},"encoding":{"x2":{"field":"t2"},"y2":{"field":"v2"}}},
    {"data":{"name":"tr"},"transform":[{"filter":"datum.r=='iii'"}],"mark":{"type":"line","color":"black","strokeWidth":1},"encoding":{}},
    {"data":{"name":"sl"},"transform":[{"filter":"datum.r=='iii'"}],"mark":{"type":"text","fontSize":8},"encoding":{"text":{"field":"txt"}}},
    {"data":{"name":"sb"},"transform":[{"filter":"datum.r=='iii'"}],"mark":{"type":"rule","color":"black","strokeWidth":1.6},"encoding":{"x2":{"field":"t2"},"y2":{"field":"v2"}}},
    {"data":{"name":"nm"},"transform":[{"filter":"datum.r=='iii'"}],"mark":{"type":"text","align":"left","fontSize":13},"encoding":{"text":{"field":"txt"}}},
    {"data":{"name":"rn"},"transform":[{"filter":"datum.r=='iii'"}],"mark":{"type":"text","align":"left","fontSize":16,"fontWeight":"bold"},"encoding":{"text":{"field":"txt"}}}
   ]},
  {"width":345,"height":110,
   "encoding":{"x":{"field":"t","type":"quantitative","scale":{"domain":[-3.643,11.143],"nice":false,"zero":false},"axis":null},"y":{"field":"v","type":"quantitative","scale":{"domain":[-54,144],"nice":false,"zero":false},"axis":null}},
   "layer":[
    {"data":{"name":"bars"},"transform":[{"filter":"datum.r=='iv'"}],"mark":{"type":"rect","color":"#d4d4d4"},"encoding":{"x2":{"field":"t2"},"y2":{"field":"v2"}}},
    {"data":{"name":"tr"},"transform":[{"filter":"datum.r=='iv'"}],"mark":{"type":"line","color":"black","strokeWidth":1},"encoding":{}},
    {"data":{"name":"sl"},"transform":[{"filter":"datum.r=='iv'"}],"mark":{"type":"text","fontSize":8},"encoding":{"text":{"field":"txt"}}},
    {"data":{"name":"sb"},"transform":[{"filter":"datum.r=='iv'"}],"mark":{"type":"rule","color":"black","strokeWidth":1.6},"encoding":{"x2":{"field":"t2"},"y2":{"field":"v2"}}},
    {"data":{"name":"nm"},"transform":[{"filter":"datum.r=='iv'"}],"mark":{"type":"text","align":"left","fontSize":13},"encoding":{"text":{"field":"txt"}}},
    {"data":{"name":"rn"},"transform":[{"filter":"datum.r=='iv'"}],"mark":{"type":"text","align":"left","fontSize":16,"fontWeight":"bold"},"encoding":{"text":{"field":"txt"}}}
   ]},
  {"width":345,"height":100,
   "encoding":{"x":{"field":"t","type":"quantitative","scale":{"domain":[-3.643,11.143],"nice":false,"zero":false},"axis":null},"y":{"field":"v","type":"quantitative","scale":{"domain":[-122.9,327.2],"nice":false,"zero":false},"axis":null}},
   "layer":[
    {"data":{"name":"bars"},"transform":[{"filter":"datum.r=='v'"}],"mark":{"type":"rect","color":"#d4d4d4"},"encoding":{"x2":{"field":"t2"},"y2":{"field":"v2"}}},
    {"data":{"name":"tr"},"transform":[{"filter":"datum.r=='v'"}],"mark":{"type":"line","color":"black","strokeWidth":1},"encoding":{}},
    {"data":{"name":"sl"},"transform":[{"filter":"datum.r=='v'"}],"mark":{"type":"text","fontSize":8},"encoding":{"text":{"field":"txt"}}},
    {"data":{"name":"sb"},"transform":[{"filter":"datum.r=='v'"}],"mark":{"type":"rule","color":"black","strokeWidth":1.6},"encoding":{"x2":{"field":"t2"},"y2":{"field":"v2"}}},
    {"data":{"name":"nm"},"transform":[{"filter":"datum.r=='v'"}],"mark":{"type":"text","align":"left","fontSize":13},"encoding":{"text":{"field":"txt"}}},
    {"data":{"name":"rn"},"transform":[{"filter":"datum.r=='v'"}],"mark":{"type":"text","align":"left","fontSize":16,"fontWeight":"bold"},"encoding":{"text":{"field":"txt"}}}
   ]},
  {"width":345,"height":130,
   "encoding":{"x":{"field":"t","type":"quantitative","scale":{"domain":[-3.643,11.143],"nice":false,"zero":false},"axis":null},"y":{"field":"v","type":"quantitative","scale":{"domain":[-170.1,219.9],"nice":false,"zero":false},"axis":null}},
   "layer":[
    {"data":{"name":"bars"},"transform":[{"filter":"datum.r=='vi'"}],"mark":{"type":"rect","color":"#d4d4d4"},"encoding":{"x2":{"field":"t2"},"y2":{"field":"v2"}}},
    {"data":{"name":"tr"},"transform":[{"filter":"datum.r=='vi'"}],"mark":{"type":"line","color":"black","strokeWidth":1},"encoding":{}},
    {"data":{"name":"sl"},"transform":[{"filter":"datum.r=='vi'"}],"mark":{"type":"text","fontSize":8},"encoding":{"text":{"field":"txt"}}},
    {"data":{"name":"sb"},"transform":[{"filter":"datum.r=='vi'"}],"mark":{"type":"rule","color":"black","strokeWidth":1.6},"encoding":{"x2":{"field":"t2"},"y2":{"field":"v2"}}},
    {"data":{"name":"nm"},"transform":[{"filter":"datum.r=='vi'"}],"mark":{"type":"text","align":"left","fontSize":13},"encoding":{"text":{"field":"txt"}}},
    {"data":{"name":"rn"},"transform":[{"filter":"datum.r=='vi'"}],"mark":{"type":"text","align":"left","fontSize":16,"fontWeight":"bold"},"encoding":{"text":{"field":"txt"}}}
   ]},
  {"width":345,"height":105,
   "encoding":{"x":{"field":"t","type":"quantitative","scale":{"domain":[-3.643,11.143],"nice":false,"zero":false},"axis":null},"y":{"field":"v","type":"quantitative","scale":{"domain":[-37.1,105.7],"nice":false,"zero":false},"axis":null}},
   "layer":[
    {"data":{"name":"bars"},"transform":[{"filter":"datum.r=='vii'"}],"mark":{"type":"rect","color":"#d4d4d4"},"encoding":{"x2":{"field":"t2"},"y2":{"field":"v2"}}},
    {"data":{"name":"tr"},"transform":[{"filter":"datum.r=='vii'"}],"mark":{"type":"line","color":"black","strokeWidth":1},"encoding":{}},
    {"data":{"name":"sl"},"transform":[{"filter":"datum.r=='vii'"}],"mark":{"type":"text","fontSize":8},"encoding":{"text":{"field":"txt"}}},
    {"data":{"name":"sb"},"transform":[{"filter":"datum.r=='vii'"}],"mark":{"type":"rule","color":"black","strokeWidth":1.6},"encoding":{"x2":{"field":"t2"},"y2":{"field":"v2"}}},
    {"data":{"name":"nm"},"transform":[{"filter":"datum.r=='vii'"}],"mark":{"type":"text","align":"left","fontSize":13},"encoding":{"text":{"field":"txt"}}},
    {"data":{"name":"rn"},"transform":[{"filter":"datum.r=='vii'"}],"mark":{"type":"text","align":"left","fontSize":16,"fontWeight":"bold"},"encoding":{"text":{"field":"txt"}}}
   ]},
  {"width":345,"height":97,
   "encoding":{"x":{"field":"t","type":"quantitative","scale":{"domain":[-3.643,11.143],"nice":false,"zero":false},"axis":null},"y":{"field":"v","type":"quantitative","scale":{"domain":[-34.2,58],"nice":false,"zero":false},"axis":null}},
   "layer":[
    {"data":{"name":"bars"},"transform":[{"filter":"datum.r=='viii'"}],"mark":{"type":"rect","color":"#d4d4d4"},"encoding":{"x2":{"field":"t2"},"y2":{"field":"v2"}}},
    {"data":{"name":"tr"},"transform":[{"filter":"datum.r=='viii'"}],"mark":{"type":"line","color":"black","strokeWidth":1},"encoding":{}},
    {"data":{"name":"sl"},"transform":[{"filter":"datum.r=='viii'"}],"mark":{"type":"text","fontSize":8},"encoding":{"text":{"field":"txt"}}},
    {"data":{"name":"sb"},"transform":[{"filter":"datum.r=='viii'"}],"mark":{"type":"rule","color":"black","strokeWidth":1.6},"encoding":{"x2":{"field":"t2"},"y2":{"field":"v2"}}},
    {"data":{"name":"nm"},"transform":[{"filter":"datum.r=='viii'"}],"mark":{"type":"text","align":"left","fontSize":13},"encoding":{"text":{"field":"txt"}}},
    {"data":{"name":"rn"},"transform":[{"filter":"datum.r=='viii'"}],"mark":{"type":"text","align":"left","fontSize":16,"fontWeight":"bold"},"encoding":{"text":{"field":"txt"}}}
   ]},
  {"width":345,"height":108,
   "encoding":{"x":{"field":"t","type":"quantitative","scale":{"domain":[-3.643,11.143],"nice":false,"zero":false},"axis":null},"y":{"field":"v","type":"quantitative","scale":{"domain":[-42.4,72.1],"nice":false,"zero":false},"axis":null}},
   "layer":[
    {"data":{"name":"bars"},"transform":[{"filter":"datum.r=='ix'"}],"mark":{"type":"rect","color":"#d4d4d4"},"encoding":{"x2":{"field":"t2"},"y2":{"field":"v2"}}},
    {"data":{"name":"tr"},"transform":[{"filter":"datum.r=='ix'"}],"mark":{"type":"line","color":"black","strokeWidth":1},"encoding":{}},
    {"data":{"name":"sl"},"transform":[{"filter":"datum.r=='ix'"}],"mark":{"type":"text","fontSize":8},"encoding":{"text":{"field":"txt"}}},
    {"data":{"name":"sb"},"transform":[{"filter":"datum.r=='ix'"}],"mark":{"type":"rule","color":"black","strokeWidth":1.6},"encoding":{"x2":{"field":"t2"},"y2":{"field":"v2"}}},
    {"data":{"name":"nm"},"transform":[{"filter":"datum.r=='ix'"}],"mark":{"type":"text","align":"left","fontSize":13},"encoding":{"text":{"field":"txt"}}},
    {"data":{"name":"rn"},"transform":[{"filter":"datum.r=='ix'"}],"mark":{"type":"text","align":"left","fontSize":16,"fontWeight":"bold"},"encoding":{"text":{"field":"txt"}}},
    {"data":{"values":[{"t":-2.5,"v":14.1,"txt":"50 % ΔF/F"}]},"mark":{"type":"text","fontSize":11,"angle":270},"encoding":{"text":{"field":"txt"}}},
    {"data":{"values":[{"t":-1.14,"v":-28.3,"txt":"2 min"}]},"mark":{"type":"text","fontSize":11},"encoding":{"text":{"field":"txt"}}}
   ]}
 ], "spacing": 0, "bounds": "flush"},
 {"vconcat": [
  {"width":261,"height":66,"data":{"values":[]},"mark":"point","encoding":{}},
  {"width":261,"height":170,
   "title":{"text":"b","anchor":"start","frame":"bounds","fontSize":19,"fontWeight":"bold","baseline":"bottom","offset":-25,"dx":-27},
   "layer":[
    {"data":{"values":[{}]},"mark":{"type":"rule","color":"#333","strokeWidth":1},"encoding":{"x":{"datum":"P|c","type":"nominal","bandPosition":1,"scale":{"type":"band","domain":["N1|c","N2|c","N3|c","N4|c","P|c","N1|a","N2|a","NP|a","N4|a","P|a","N2+P|a"],"paddingInner":0,"paddingOuter":0.256},"axis":{"title":null,"labelAngle":-45,"labelExpr":"split(datum.value,'|')[0]"}}}},
    {"data":{"name":"bd"},"mark":{"type":"rule","color":"black","strokeWidth":2},"encoding":{"x":{"field":"k","type":"nominal","scale":{"type":"band","domain":["N1|c","N2|c","N3|c","N4|c","P|c","N1|a","N2|a","NP|a","N4|a","P|a","N2+P|a"],"paddingInner":0,"paddingOuter":0.256},"axis":{"title":null,"labelAngle":-45,"labelExpr":"split(datum.value,'|')[0]"}},"y":{"field":"lo","type":"quantitative","scale":{"domain":[0,100],"nice":false},"axis":{"values":[0,20,40,60,80,100],"title":"% ΔF/F","labelOverlap":false}},"y2":{"field":"hi"}}},
    {"data":{"name":"bd"},"transform":[{"fold":["lo","hi"],"as":["w","cap"]}],"mark":{"type":"tick","color":"black","size":9,"thickness":2},"encoding":{"x":{"field":"k","type":"nominal","scale":{"type":"band","domain":["N1|c","N2|c","N3|c","N4|c","P|c","N1|a","N2|a","NP|a","N4|a","P|a","N2+P|a"],"paddingInner":0,"paddingOuter":0.256},"axis":{"title":null,"labelAngle":-45,"labelExpr":"split(datum.value,'|')[0]"}},"y":{"field":"cap","type":"quantitative","scale":{"domain":[0,100],"nice":false},"axis":{"title":"% ΔF/F","labelOverlap":false}}}},
    {"data":{"name":"bd"},"mark":{"type":"point","filled":true,"strokeWidth":1.8,"size":55,"opacity":1},"encoding":{"x":{"field":"k","type":"nominal","scale":{"type":"band","domain":["N1|c","N2|c","N3|c","N4|c","P|c","N1|a","N2|a","NP|a","N4|a","P|a","N2+P|a"],"paddingInner":0,"paddingOuter":0.256},"axis":{"title":null,"labelAngle":-45,"labelExpr":"split(datum.value,'|')[0]"}},"y":{"field":"m","type":"quantitative","scale":{"domain":[0,100],"nice":false},"axis":{"title":"% ΔF/F","labelOverlap":false}},
      "fill":{"field":"d","type":"nominal","scale":{"domain":["N","P","NP","N2P"],"range":["white","black","white","white"]},"legend":{"title":null,"orient":"none","legendX":373,"legendY":282,"direction":"horizontal","values":["N","P","NP"],"labelExpr":"datum.value=='N' ? 'Nicotine 1 µM' : datum.value=='P' ? 'Pilocarpine 10 µM' : ['Nicotine 1 µM','Pilocarpine 10 µM']","labelFontSize":9,"symbolSize":55,"symbolStrokeWidth":1.8,"columnPadding":16,"labelOffset":12}},
      "stroke":{"field":"d","type":"nominal","scale":{"domain":["N","P","NP","N2P"],"range":["black","black","black","black"]},"legend":{"title":null,"orient":"none","legendX":373,"legendY":282,"direction":"horizontal","values":["N","P","NP"],"labelExpr":"datum.value=='N' ? 'Nicotine 1 µM' : datum.value=='P' ? 'Pilocarpine 10 µM' : ['Nicotine 1 µM','Pilocarpine 10 µM']","labelFontSize":9,"symbolSize":55,"symbolStrokeWidth":1.8,"columnPadding":16,"labelOffset":12}},
      "shape":{"field":"d","type":"nominal","scale":{"domain":["N","P","NP","N2P"],"range":["circle","circle","M-1,0A1,1,0,1,1,1,0A1,1,0,1,1,-1,0ZM-0.22,0A0.22,0.22,0,1,1,0.22,0A0.22,0.22,0,1,1,-0.22,0Z","M-0.9,-0.9L0.9,-0.9L0.9,0.9L-0.9,0.9ZM-0.22,0A0.22,0.22,0,1,1,0.22,0A0.22,0.22,0,1,1,-0.22,0Z"]},"legend":{"title":null,"orient":"none","legendX":373,"legendY":282,"direction":"horizontal","values":["N","P","NP"],"labelExpr":"datum.value=='N' ? 'Nicotine 1 µM' : datum.value=='P' ? 'Pilocarpine 10 µM' : ['Nicotine 1 µM','Pilocarpine 10 µM']","labelFontSize":9,"symbolSize":55,"symbolStrokeWidth":1.8,"columnPadding":16,"labelOffset":12}}}},
    {"data":{"values":[{"k":"N2|a","k2":"N4|a","y":49.6,"y2":49.6},{"k":"N2|a","k2":"N2|a","y":49.6,"y2":45.1},{"k":"N4|a","k2":"N4|a","y":49.6,"y2":45.1},{"k":"NP|a","k2":"N2+P|a","y":66.3,"y2":66.3},{"k":"NP|a","k2":"NP|a","y":66.3,"y2":61.8},{"k":"N2+P|a","k2":"N2+P|a","y":66.3,"y2":61.8}]},"mark":{"type":"rule","color":"black","strokeWidth":1.5},"encoding":{"x":{"field":"k","type":"nominal","scale":{"type":"band","domain":["N1|c","N2|c","N3|c","N4|c","P|c","N1|a","N2|a","NP|a","N4|a","P|a","N2+P|a"],"paddingInner":0,"paddingOuter":0.256},"axis":{"title":null,"labelAngle":-45,"labelExpr":"split(datum.value,'|')[0]"}},"x2":{"field":"k2"},"y":{"field":"y","type":"quantitative","scale":{"domain":[0,100],"nice":false},"axis":{"title":"% ΔF/F","labelOverlap":false}},"y2":{"field":"y2"}}},
    {"data":{"values":[{}]},"mark":{"type":"text","fontSize":15,"fontWeight":"bold"},"encoding":{"x":{"datum":"N1|a","type":"nominal"},"y":{"datum":126.1,"type":"quantitative"},"text":{"value":"Mean amplitude PN"}}},
    {"data":{"values":[{}]},"mark":{"type":"text","fontSize":14,"fontWeight":"bold"},"encoding":{"x":{"datum":"N3|c","type":"nominal"},"y":{"datum":112.4,"type":"quantitative"},"text":{"value":"Control"}}},
    {"data":{"values":[{}]},"mark":{"type":"text","fontSize":14,"fontWeight":"bold"},"encoding":{"x":{"datum":"NP|a","type":"nominal","bandPosition":1},"y":{"datum":112.4,"type":"quantitative"},"text":{"value":"Co-application"}}},
    {"data":{"values":[{}]},"mark":{"type":"text","fontSize":13,"align":"left"},"encoding":{"x":{"datum":"N1|c","type":"nominal","bandPosition":0},"y":{"datum":3.9,"type":"quantitative"},"text":{"value":"n=170"}}},
    {"data":{"values":[{}]},"mark":{"type":"text","fontSize":13,"align":"left"},"encoding":{"x":{"datum":"N1|a","type":"nominal","bandPosition":0},"y":{"datum":3.9,"type":"quantitative"},"text":{"value":"n=177"}}},
    {"data":{"values":[{}]},"mark":{"type":"text","fontSize":12},"encoding":{"x":{"datum":"NP|a","type":"nominal"},"y":{"datum":54.5,"type":"quantitative"},"text":{"value":"n.s."}}},
    {"data":{"values":[{}]},"mark":{"type":"text","fontSize":13},"encoding":{"x":{"datum":"N4|a","type":"nominal","bandPosition":1},"y":{"datum":68,"type":"quantitative"},"text":{"value":"***"}}}
   ]},
  {"width":261,"height":141,"data":{"values":[]},"mark":"point","encoding":{}},
  {"width":261,"height":170,
   "title":{"text":"c","anchor":"start","frame":"bounds","fontSize":19,"fontWeight":"bold","baseline":"bottom","offset":-26,"dx":-24},
   "layer":[
    {"data":{"values":[{}]},"mark":{"type":"rule","color":"#333","strokeWidth":1},"encoding":{"x":{"datum":"P|c","type":"nominal","bandPosition":1,"scale":{"type":"band","domain":["N1|c","N2|c","N3|c","N4|c","P|c","N1|a","N2|a","NP|a","N4|a","P|a","N2+P|a"],"paddingInner":0,"paddingOuter":0.256},"axis":{"title":null,"labelAngle":-45,"labelExpr":"split(datum.value,'|')[0]"}}}},
    {"data":{"name":"cd"},"mark":{"type":"rule","color":"black","strokeWidth":2},"encoding":{"x":{"field":"k","type":"nominal","scale":{"type":"band","domain":["N1|c","N2|c","N3|c","N4|c","P|c","N1|a","N2|a","NP|a","N4|a","P|a","N2+P|a"],"paddingInner":0,"paddingOuter":0.256},"axis":{"title":null,"labelAngle":-45,"labelExpr":"split(datum.value,'|')[0]"}},"y":{"field":"lo","type":"quantitative","scale":{"domain":[0,100],"nice":false},"axis":{"values":[0,20,40,60,80,100],"title":"% ΔF/F","labelOverlap":false}},"y2":{"field":"hi"}}},
    {"data":{"name":"cd"},"transform":[{"fold":["lo","hi"],"as":["w","cap"]}],"mark":{"type":"tick","color":"black","size":9,"thickness":2},"encoding":{"x":{"field":"k","type":"nominal","scale":{"type":"band","domain":["N1|c","N2|c","N3|c","N4|c","P|c","N1|a","N2|a","NP|a","N4|a","P|a","N2+P|a"],"paddingInner":0,"paddingOuter":0.256},"axis":{"title":null,"labelAngle":-45,"labelExpr":"split(datum.value,'|')[0]"}},"y":{"field":"cap","type":"quantitative","scale":{"domain":[0,100],"nice":false},"axis":{"title":"% ΔF/F","labelOverlap":false}}}},
    {"data":{"name":"cd"},"mark":{"type":"point","filled":true,"strokeWidth":1.8,"size":55,"opacity":1},"encoding":{"x":{"field":"k","type":"nominal","scale":{"type":"band","domain":["N1|c","N2|c","N3|c","N4|c","P|c","N1|a","N2|a","NP|a","N4|a","P|a","N2+P|a"],"paddingInner":0,"paddingOuter":0.256},"axis":{"title":null,"labelAngle":-45,"labelExpr":"split(datum.value,'|')[0]"}},"y":{"field":"m","type":"quantitative","scale":{"domain":[0,100],"nice":false},"axis":{"title":"% ΔF/F","labelOverlap":false}},
      "fill":{"field":"d","type":"nominal","scale":{"domain":["N","P","NP","N2P"],"range":["white","black","white","white"]},"legend":null},
      "stroke":{"field":"d","type":"nominal","scale":{"domain":["N","P","NP","N2P"],"range":["black","black","black","black"]},"legend":null},
      "shape":{"field":"d","type":"nominal","scale":{"domain":["N","P","NP","N2P"],"range":["circle","circle","M-1,0A1,1,0,1,1,1,0A1,1,0,1,1,-1,0ZM-0.22,0A0.22,0.22,0,1,1,0.22,0A0.22,0.22,0,1,1,-0.22,0Z","M-0.9,-0.9L0.9,-0.9L0.9,0.9L-0.9,0.9ZM-0.22,0A0.22,0.22,0,1,1,0.22,0A0.22,0.22,0,1,1,-0.22,0Z"]},"legend":null}}},
    {"data":{"values":[{"k":"NP|a","k2":"N2+P|a","y":101.4,"y2":101.4},{"k":"NP|a","k2":"NP|a","y":101.4,"y2":97.5},{"k":"N2+P|a","k2":"N2+P|a","y":101.4,"y2":97.5},{"k":"N2|a","k2":"N4|a","y":10.2,"y2":10.2},{"k":"N2|a","k2":"N2|a","y":10.2,"y2":15.3},{"k":"N4|a","k2":"N4|a","y":10.2,"y2":15.3}]},"mark":{"type":"rule","color":"black","strokeWidth":1.5},"encoding":{"x":{"field":"k","type":"nominal","scale":{"type":"band","domain":["N1|c","N2|c","N3|c","N4|c","P|c","N1|a","N2|a","NP|a","N4|a","P|a","N2+P|a"],"paddingInner":0,"paddingOuter":0.256},"axis":{"title":null,"labelAngle":-45,"labelExpr":"split(datum.value,'|')[0]"}},"x2":{"field":"k2"},"y":{"field":"y","type":"quantitative","scale":{"domain":[0,100],"nice":false},"axis":{"title":"% ΔF/F","labelOverlap":false}},"y2":{"field":"y2"}}},
    {"data":{"values":[{}]},"mark":{"type":"text","fontSize":15,"fontWeight":"bold"},"encoding":{"x":{"datum":"N1|a","type":"nominal"},"y":{"datum":126.5,"type":"quantitative"},"text":{"value":"Mean amplitude LN"}}},
    {"data":{"values":[{}]},"mark":{"type":"text","fontSize":14,"fontWeight":"bold"},"encoding":{"x":{"datum":"N3|c","type":"nominal"},"y":{"datum":112.8,"type":"quantitative"},"text":{"value":"Control"}}},
    {"data":{"values":[{}]},"mark":{"type":"text","fontSize":14,"fontWeight":"bold"},"encoding":{"x":{"datum":"NP|a","type":"nominal","bandPosition":1},"y":{"datum":112.8,"type":"quantitative"},"text":{"value":"Co-application"}}},
    {"data":{"values":[{}]},"mark":{"type":"text","fontSize":13,"align":"left"},"encoding":{"x":{"datum":"N1|c","type":"nominal","bandPosition":0},"y":{"datum":3.9,"type":"quantitative"},"text":{"value":"n=34"}}},
    {"data":{"values":[{}]},"mark":{"type":"text","fontSize":13,"align":"left"},"encoding":{"x":{"datum":"N1|a","type":"nominal","bandPosition":0},"y":{"datum":3.9,"type":"quantitative"},"text":{"value":"n=31"}}},
    {"data":{"values":[{}]},"mark":{"type":"text","fontSize":12},"encoding":{"x":{"datum":"N4|a","type":"nominal","bandPosition":1},"y":{"datum":104.8,"type":"quantitative"},"text":{"value":"n.s."}}},
    {"data":{"values":[{}]},"mark":{"type":"text","fontSize":12},"encoding":{"x":{"datum":"NP|a","type":"nominal"},"y":{"datum":5.5,"type":"quantitative"},"text":{"value":"n.s."}}}
   ]},
  {"width":261,"height":75,"data":{"values":[]},"mark":"point","encoding":{}},
  {"width":261,"height":255,
   "title":{"text":"d","anchor":"start","frame":"bounds","fontSize":19,"fontWeight":"bold","baseline":"bottom","offset":-25,"dx":-11},
   "layer":[
    {"data":{"values":[{}]},"mark":{"type":"rule","color":"#333","strokeWidth":1},"encoding":{"x":{"datum":"LN","type":"nominal","bandPosition":1,"scale":{"type":"band","domain":["PN","LN","GABA","GABA + NADPHd","NADPHd","ND"],"paddingInner":0,"paddingOuter":0.26},"axis":{"title":null,"labelAngle":-45}}}},
    {"data":{"values":[{}]},"mark":{"type":"rule","color":"black","strokeWidth":1.5,"strokeDash":[2,3]},"encoding":{"y":{"datum":0,"type":"quantitative","scale":{"domain":[-100,150],"nice":false,"zero":false},"axis":{"values":[-100,-50,0,50,100,150],"title":"ΔN4 - ΔN2","labelOverlap":false,"labelExpr":"replace(datum.label,'−','-')"}}}},
    {"data":{"name":"dp"},"transform":[{"filter":"datum.g=='PN'"}],"mark":{"type":"point","filled":true,"color":"black","size":30,"opacity":1},"encoding":{"x":{"field":"g","type":"nominal","scale":{"type":"band","domain":["PN","LN","GABA","GABA + NADPHd","NADPHd","ND"],"paddingInner":0,"paddingOuter":0.26},"axis":{"title":null,"labelAngle":-45}},"xOffset":{"field":"j","type":"quantitative","scale":{"domain":[-1,1]}},"y":{"field":"v","type":"quantitative","scale":{"domain":[-100,150],"nice":false,"zero":false},"axis":{"values":[-100,-50,0,50,100,150],"title":"ΔN4 - ΔN2","labelOverlap":false,"labelExpr":"replace(datum.label,'−','-')"}}}},
    {"data":{"name":"dp"},"transform":[{"filter":"datum.g=='LN'"}],"mark":{"type":"point","filled":true,"fill":"#c8c8c8","stroke":"#333","strokeWidth":1,"size":45,"opacity":1},"encoding":{"x":{"field":"g","type":"nominal","scale":{"type":"band","domain":["PN","LN","GABA","GABA + NADPHd","NADPHd","ND"],"paddingInner":0,"paddingOuter":0.26},"axis":{"title":null,"labelAngle":-45}},"xOffset":{"field":"j","type":"quantitative","scale":{"domain":[-1,1]}},"y":{"field":"v","type":"quantitative","scale":{"domain":[-100,150],"nice":false,"zero":false},"axis":{"values":[-100,-50,0,50,100,150],"title":"ΔN4 - ΔN2","labelOverlap":false,"labelExpr":"replace(datum.label,'−','-')"}}}},
    {"data":{"name":"dp"},"transform":[{"filter":"datum.g=='GABA' || datum.g=='GABA + NADPHd' || datum.g=='NADPHd'"}],"mark":{"type":"point","filled":true,"size":42,"opacity":1},"encoding":{"x":{"field":"g","type":"nominal","scale":{"type":"band","domain":["PN","LN","GABA","GABA + NADPHd","NADPHd","ND"],"paddingInner":0,"paddingOuter":0.26},"axis":{"title":null,"labelAngle":-45}},"xOffset":{"field":"j","type":"quantitative","scale":{"domain":[-1,1]}},"y":{"field":"v","type":"quantitative","scale":{"domain":[-100,150],"nice":false,"zero":false},"axis":{"values":[-100,-50,0,50,100,150],"title":"ΔN4 - ΔN2","labelOverlap":false,"labelExpr":"replace(datum.label,'−','-')"}},"color":{"field":"g","type":"nominal","scale":{"domain":["GABA","GABA + NADPHd","NADPHd"],"range":["#ff5fd6","#1fc91f","#0000ff"]},"legend":null}}},
    {"data":{"name":"dp"},"transform":[{"filter":"datum.g=='ND'"}],"mark":{"type":"point","filled":true,"fill":"white","stroke":"black","strokeWidth":1.8,"size":40,"opacity":1},"encoding":{"x":{"field":"g","type":"nominal","scale":{"type":"band","domain":["PN","LN","GABA","GABA + NADPHd","NADPHd","ND"],"paddingInner":0,"paddingOuter":0.26},"axis":{"title":null,"labelAngle":-45}},"xOffset":{"field":"j","type":"quantitative","scale":{"domain":[-1,1]}},"y":{"field":"v","type":"quantitative","scale":{"domain":[-100,150],"nice":false,"zero":false},"axis":{"values":[-100,-50,0,50,100,150],"title":"ΔN4 - ΔN2","labelOverlap":false,"labelExpr":"replace(datum.label,'−','-')"}}}},
    {"data":{"name":"dm"},"mark":{"type":"tick","size":27,"thickness":2.5,"opacity":1},"encoding":{"x":{"field":"g","type":"nominal","scale":{"type":"band","domain":["PN","LN","GABA","GABA + NADPHd","NADPHd","ND"],"paddingInner":0,"paddingOuter":0.26},"axis":{"title":null,"labelAngle":-45}},"y":{"field":"m","type":"quantitative","scale":{"domain":[-100,150],"nice":false,"zero":false},"axis":{"values":[-100,-50,0,50,100,150],"title":"ΔN4 - ΔN2","labelOverlap":false,"labelExpr":"replace(datum.label,'−','-')"}},"color":{"condition":{"test":"datum.g=='PN'","value":"#a0a0a0"},"value":"black"}}},
    {"data":{"values":[{"g":"PN","txt":"n=177"},{"g":"LN","txt":"31"},{"g":"GABA","txt":"12"},{"g":"GABA + NADPHd","txt":"2"},{"g":"NADPHd","txt":"5"},{"g":"ND","txt":"12"}]},"mark":{"type":"text","fontSize":13},"encoding":{"x":{"field":"g","type":"nominal","scale":{"type":"band","domain":["PN","LN","GABA","GABA + NADPHd","NADPHd","ND"],"paddingInner":0,"paddingOuter":0.26},"axis":{"title":null,"labelAngle":-45}},"y":{"datum":143.5,"type":"quantitative"},"text":{"field":"txt"}}},
    {"data":{"values":[{}]},"mark":{"type":"rule","color":"black","strokeWidth":2.5},"encoding":{"x":{"datum":"PN","type":"nominal"},"x2":{"datum":"LN"},"y":{"datum":120,"type":"quantitative"}}},
    {"data":{"values":[{}]},"mark":{"type":"text","fontSize":17,"fontWeight":"bold"},"encoding":{"x":{"datum":"PN","type":"nominal","bandPosition":1},"y":{"datum":125,"type":"quantitative"},"text":{"value":"**"}}}
   ]}
 ], "spacing": 0, "bounds": "flush"}
]
}
